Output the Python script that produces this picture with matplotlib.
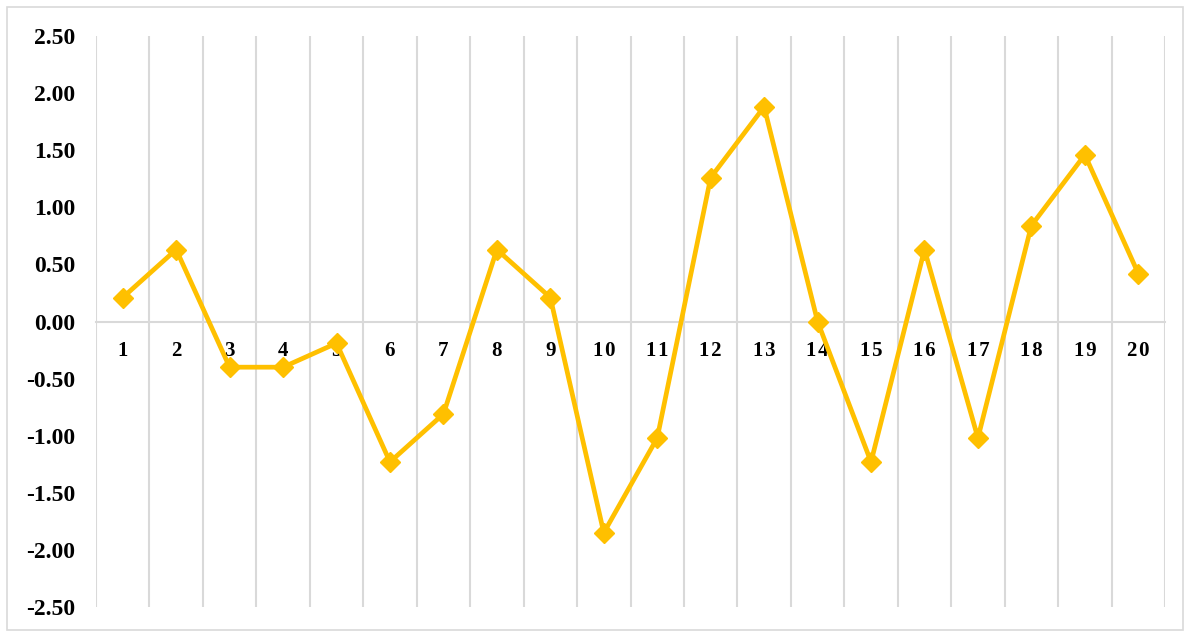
import matplotlib
matplotlib.use("Agg")
import matplotlib.pyplot as plt
from matplotlib.patches import Rectangle

categories = [str(i) for i in range(1, 21)]
values = [0.21, 0.63, -0.40, -0.40, -0.19, -1.23, -0.81, 0.63, 0.21, -1.85,
          -1.02, 1.26, 1.88, 0.00, -1.23, 0.63, -1.02, 0.84, 1.46, 0.42]
y_ticks = [-2.5, -2.0, -1.5, -1.0, -0.5, 0.0, 0.5, 1.0, 1.5, 2.0, 2.5]

W, H = 1187, 633
fig = plt.figure(figsize=(W / 100, H / 100), dpi=100)
fig.patches.append(Rectangle((7 / W, 3 / H), 1176 / W, 623 / H, transform=fig.transFigure,
                             fill=False, edgecolor="#D9D9D9", linewidth=1.2))
ax = fig.add_axes([96 / W, 26 / H, (1165 - 96) / W, (607 - 36) / H])

x = list(range(1, len(categories) + 1))
ax.plot(x, values, color="#FFC000", linewidth=3.4, marker="D", markersize=10.5,
        zorder=3, clip_on=False)

ax.set_xlim(0.5, len(categories) + 0.5)
ax.set_ylim(-2.5, 2.5)
ax.set_yticks(y_ticks)
ax.set_yticklabels(["%.2f" % v for v in y_ticks])
ax.set_xticks(x)
# Excel spreads the digits a little
ax.set_xticklabels(["\u200a".join(c) for c in categories])

# vertical gridlines at category boundaries
ax.set_xticks([i + 0.5 for i in range(0, len(categories) + 1)], minor=True)
ax.grid(True, which="minor", axis="x", color="#D9D9D9", linewidth=1.5)
ax.tick_params(which="both", length=0)
ax.tick_params(axis="y", pad=15)
ax.tick_params(axis="x", pad=14)

for side in ["top", "left", "right"]:
    ax.spines[side].set_visible(False)
ax.spines["bottom"].set_position(("data", 0))
ax.spines["bottom"].set_color("#D9D9D9")
ax.spines["bottom"].set_linewidth(1.5)

for lbl in ax.get_yticklabels():
    lbl.set_fontfamily(["Liberation Serif", "DejaVu Serif"])
    lbl.set_fontweight("bold")
    lbl.set_fontsize(17)
for lbl in ax.get_xticklabels():
    lbl.set_fontfamily(["Liberation Serif", "DejaVu Serif"])
    lbl.set_fontweight("bold")
    lbl.set_fontsize(15)

fig.savefig("out.png", dpi=100)
